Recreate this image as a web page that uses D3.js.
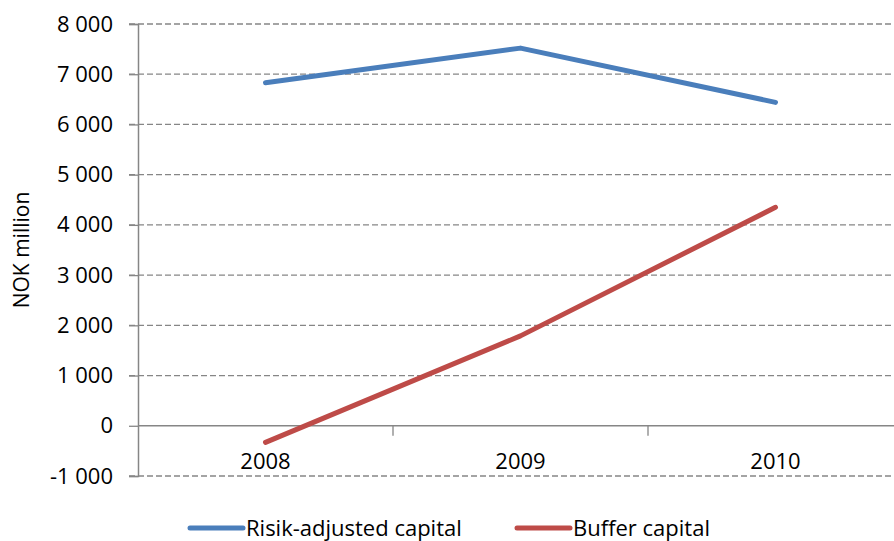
<!DOCTYPE html>
<html>
<head>
<meta charset="utf-8">
<script src="https://cdn.jsdelivr.net/npm/d3@7"></script>
<style>
  body { margin: 0; background: #fff; }
  text { font-family: "Open Sans", sans-serif; fill: #000; }
</style>
</head>
<body>
<div class="main"></div>
<script>
const years = ['2008', '2009', '2010'];
const riskAdjusted = [6830, 7520, 6440];
const buffer = [-330, 1790, 4350];
const yTicks = [-1000, 0, 1000, 2000, 3000, 4000, 5000, 6000, 7000, 8000];
const seriesNames = ['Risik-adjusted capital', 'Buffer capital'];
const seriesColors = ['#4A7EBB', '#BE4B48'];

const w = 894, h = 541;
const plotL = 138, plotR = 903, plotT = 24, plotB = 476;

const svg = d3.select('.main')
            .append('svg')
            .attr('width', w)
            .attr('height', h)

const x = d3.scaleBand()
            .domain(years)
            .range([plotL, plotR])
const y = d3.scaleLinear()
            .domain([-1000, 8000])
            .range([plotB, plotT])

// "8 000", "-1 000"
const fmt = v => d3.format(',')(v).replace(',', ' ').replace('\u2212', '-')

// gridlines
svg.append('g')
    .selectAll('line')
    .data(yTicks.filter(t => t !== 0))
    .enter()
    .append('line')
    .attr('x1', plotL - 9)
    .attr('x2', w)
    .attr('y1', d => y(d))
    .attr('y2', d => y(d))
    .attr('stroke', '#868686')
    .attr('stroke-width', 1.3)
    .attr('stroke-dasharray', '6,3')

// y axis
const yAxis = svg.append('g')
            .attr('transform', `translate(${plotL},0)`)
            .call(d3.axisLeft(y).tickValues(yTicks).tickSize(9).tickFormat(fmt))
yAxis.select('.domain').attr('stroke', '#868686').attr('stroke-width', 1.5)
yAxis.selectAll('line').attr('stroke', '#868686').attr('stroke-width', 1.3)
yAxis.selectAll('text')
    .attr('x', -25)
    .style('font-size', '22px')
    .style('font-family', '"Open Sans", sans-serif')

// x axis at zero
const xAxis = svg.append('g')
            .attr('transform', `translate(0,${y(0)})`)
xAxis.append('line')
    .attr('x1', plotL)
    .attr('x2', w)
    .attr('stroke', '#868686')
    .attr('stroke-width', 1.5)
xAxis.selectAll('.tk')
    .data(years.slice(1))
    .enter()
    .append('line')
    .attr('x1', d => x(d))
    .attr('x2', d => x(d))
    .attr('y2', 10)
    .attr('stroke', '#868686')
    .attr('stroke-width', 1.3)
xAxis.selectAll('text')
    .data(years)
    .enter()
    .append('text')
    .attr('x', d => x(d) + x.bandwidth() / 2)
    .attr('y', 43)
    .attr('text-anchor', 'middle')
    .style('font-size', '22px')
    .text(d => d)

svg.append('text')
    .attr('transform', `translate(29,${(plotT + plotB) / 2}) rotate(-90)`)
    .attr('text-anchor', 'middle')
    .style('font-size', '21px')
    .text('NOK million')

const line = d3.line()
            .x((d, i) => x(years[i]) + x.bandwidth() / 2)
            .y(d => y(d))

;[riskAdjusted, buffer].forEach((s, i) => {
    svg.append('path')
        .datum(s)
        .attr('d', line)
        .attr('fill', 'none')
        .attr('stroke', seriesColors[i])
        .attr('stroke-width', 5)
        .attr('stroke-linecap', 'round')
        .attr('stroke-linejoin', 'round')
})

// legend
const legendX = [190, 517];
const legend = svg.append('g')
legendX.forEach((lx, i) => {
    legend.append('line')
        .attr('x1', lx)
        .attr('x2', lx + 53)
        .attr('y1', 528)
        .attr('y2', 528)
        .attr('stroke', seriesColors[i])
        .attr('stroke-width', 5)
        .attr('stroke-linecap', 'round')
    legend.append('text')
        .attr('x', lx + 56)
        .attr('y', 536)
        .style('font-size', '22px')
        .text(seriesNames[i])
})
</script>
</body>
</html>
